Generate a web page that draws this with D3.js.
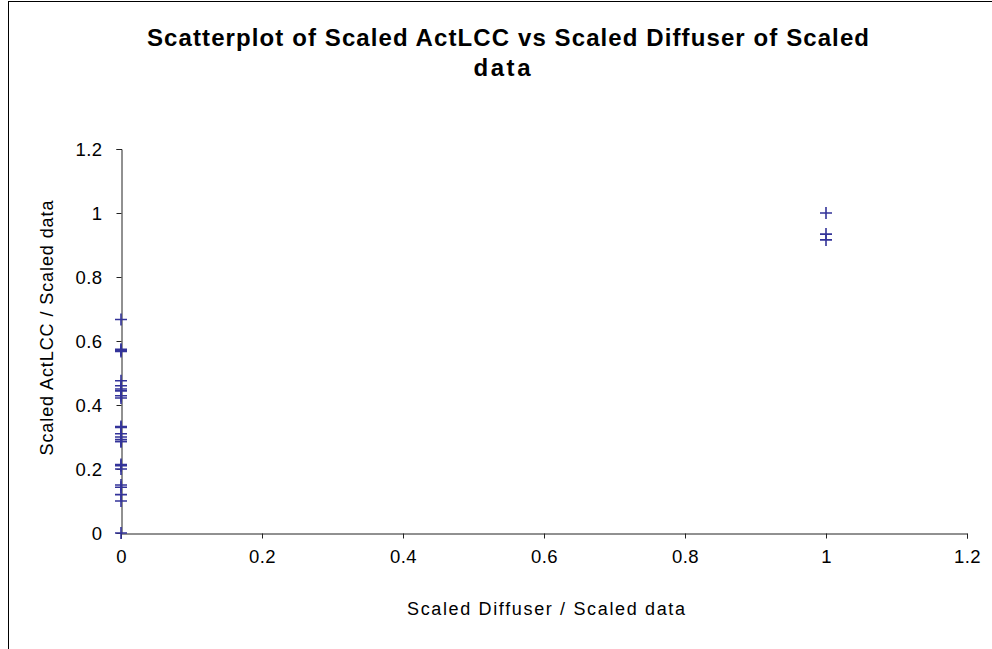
<!DOCTYPE html>
<html><head><meta charset="utf-8">
<script src="https://cdn.jsdelivr.net/npm/d3@7"></script>
<style>body{margin:0;background:#fff}svg{display:block}</style>
</head><body>
<svg id="c" width="992" height="649"></svg>
<script>
const xValues = [0,0,0,0,0,0,0,0,0,0,0,0,0,0,0,0,0,0,0,0,0,0,0,0,0,1,1,1];
const yValues = [0.667,0.574,0.567,0.476,0.46,0.444,0.429,0.422,0.333,0.31,0.3,0.292,0.286,0.214,0.21,0.15,0.143,0.12,0.1,0,0.2,0.286,0.45,0.571,0.33,1.0,0.934,0.916];
const xTicks = [0,0.2,0.4,0.6,0.8,1,1.2];
const yTicks = [0,0.2,0.4,0.6,0.8,1,1.2];
const titleLines = ["Scatterplot of Scaled ActLCC vs Scaled Diffuser of Scaled","data"];
const xLabel = "Scaled Diffuser / Scaled data";
const yLabel = "Scaled ActLCC / Scaled data";

const svg = d3.select("#c");
const font = "'Liberation Sans', Arial, sans-serif";
svg.append("rect").attr("x",8.5).attr("y",1.5).attr("width",1100).attr("height",1100)
  .attr("fill","none").attr("stroke","#000").attr("stroke-width",1);

const x = d3.scaleLinear().domain([0,1.2]).range([121,967]);
const y = d3.scaleLinear().domain([0,1.2]).range([533,149]);

const xa = svg.append("g").attr("transform","translate(0,533.5)")
  .call(d3.axisBottom(x).tickValues(xTicks).tickFormat(d=>d3.format("")(d)).tickSize(5).tickPadding(11));
const ya = svg.append("g").attr("transform","translate(121.5,0)")
  .call(d3.axisLeft(y).tickValues(yTicks).tickFormat(d=>d3.format("")(d)).tickSize(5).tickPadding(14));
[xa,ya].forEach(a=>{
  a.selectAll("path").attr("stroke","#222");
  a.selectAll("line").attr("stroke","#222");
  a.selectAll("text").attr("font-family",font).attr("font-size",18.5).attr("fill","#000")
   .attr("letter-spacing",0.4);
});
ya.selectAll("text").attr("dy","0.35em");

const pts = xValues.map((v,i)=>({x:v,y:yValues[i]}));
const g = svg.append("g");
pts.forEach(p=>{
  const cx = x(p.x), cy = y(p.y);
  g.append("path").attr("d",`M${cx-6},${cy}H${cx+6}M${cx},${cy-6}V${cy+6}`)
   .attr("stroke","#333399").attr("stroke-width",1.6).attr("fill","none");
});

const t = svg.append("g").attr("font-family",font).attr("font-weight","bold").attr("font-size",24);
t.append("text").attr("x",508).attr("y",46).attr("text-anchor","middle")
  .attr("textLength",722).attr("lengthAdjust","spacing").text(titleLines[0]);
t.append("text").attr("x",502).attr("y",76).attr("text-anchor","middle")
  .attr("textLength",57).attr("lengthAdjust","spacing").text(titleLines[1]);

svg.append("text").attr("x",546).attr("y",615).attr("text-anchor","middle")
  .attr("font-family",font).attr("font-size",18)
  .attr("textLength",278).attr("lengthAdjust","spacing").text(xLabel);
svg.append("text").attr("transform","translate(53,328) rotate(-90)").attr("text-anchor","middle")
  .attr("font-family",font).attr("font-size",18)
  .attr("textLength",255).attr("lengthAdjust","spacing").text(yLabel);
</script>
</body></html>
